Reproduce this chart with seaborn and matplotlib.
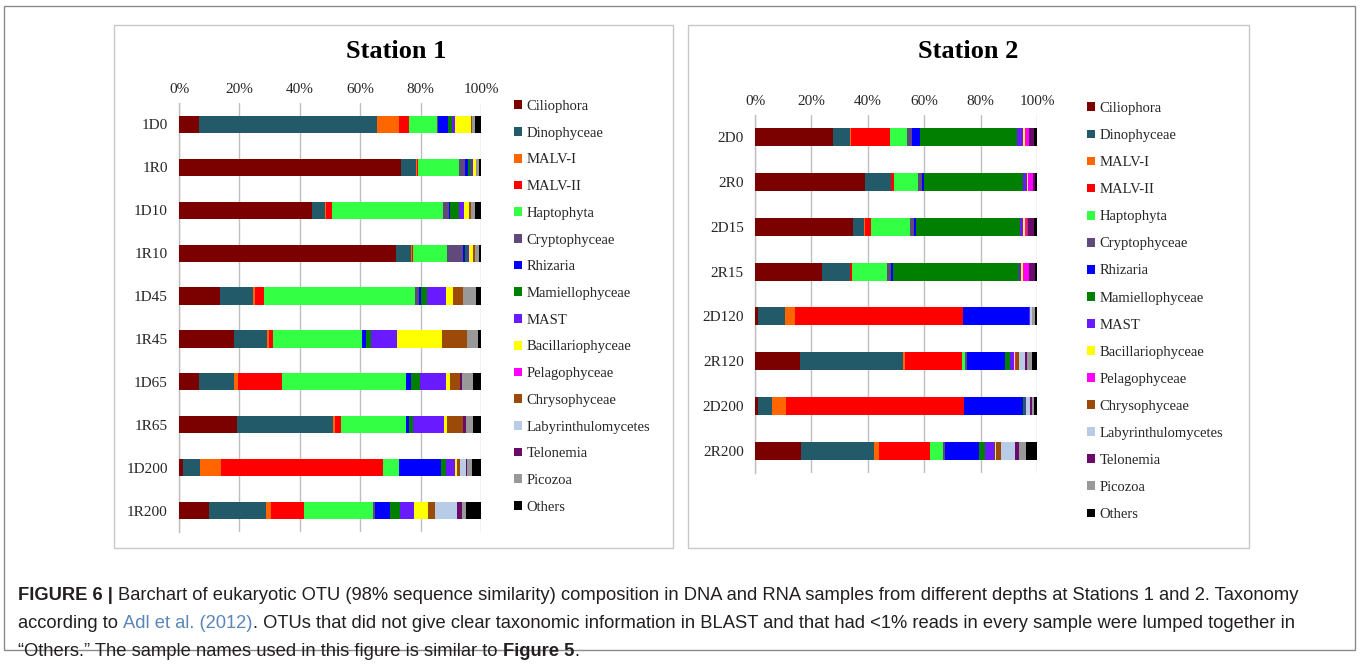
import numpy as np
import pandas as pd
import matplotlib
matplotlib.use("Agg")
import matplotlib.pyplot as plt
from matplotlib.patches import Patch, Rectangle
import seaborn as sns

# ---------------- data ----------------
taxa = ["Ciliophora", "Dinophyceae", "MALV-I", "MALV-II", "Haptophyta",
        "Cryptophyceae", "Rhizaria", "Mamiellophyceae", "MAST",
        "Bacillariophyceae", "Pelagophyceae", "Chrysophyceae",
        "Labyrinthulomycetes", "Telonemia", "Picozoa", "Others"]
colors = ["#7B0000", "#235A69", "#FF6600", "#FF0000", "#33FF44",
          "#604A7B", "#0000FF", "#007F00", "#6A1AFF",
          "#FFFF00", "#FF00FF", "#9C4A0A",
          "#B8CCE8", "#6A0A6A", "#999999", "#000000"]

s1_samples = ["1D0", "1R0", "1D10", "1R10", "1D45", "1R45", "1D65", "1R65", "1D200", "1R200"]
s1_1D0 = [6.7, 59.0, 7.2, 3.2, 9.2, 0.4, 3.4, 1.3, 0.9, 5.3, 0.0, 0.3, 0.0, 0.0, 1.2, 1.9]
s1_1R0 = [73.5, 5.0, 0.3, 0.4, 13.6, 2.0, 0.9, 0.9, 0.7, 0.9, 0.0, 0.2, 0.0, 0.0, 1.1, 0.5]
s1_1D10 = [44.2, 4.2, 0.3, 2.0, 36.6, 2.1, 0.4, 3.0, 1.5, 1.8, 0.0, 0.7, 0.0, 0.0, 1.1, 2.1]
s1_1R10 = [71.7, 5.1, 0.3, 0.5, 11.3, 5.2, 0.7, 0.7, 0.5, 1.5, 0.0, 0.6, 0.0, 0.0, 1.4, 0.5]
s1_1D45 = [13.7, 10.8, 0.6, 3.0, 50.1, 1.3, 0.7, 1.9, 6.4, 2.2, 0.0, 3.5, 0.0, 0.0, 4.2, 1.6]
s1_1R45 = [18.1, 11.1, 0.7, 1.2, 29.6, 0.0, 1.1, 1.8, 8.5, 14.9, 0.0, 8.2, 0.0, 0.2, 3.5, 1.1]
s1_1D65 = [6.6, 11.6, 1.2, 14.6, 41.3, 0.0, 1.5, 2.9, 8.8, 1.3, 0.0, 3.1, 0.0, 0.7, 3.6, 2.8]
s1_1R65 = [19.2, 31.9, 0.6, 2.0, 21.3, 0.0, 1.3, 1.2, 10.3, 0.9, 0.0, 5.5, 0.0, 0.9, 2.4, 2.5]
s1_1D200 = [1.4, 5.6, 6.8, 53.8, 5.4, 0.0, 13.9, 1.4, 3.0, 0.9, 0.0, 0.8, 2.1, 0.4, 1.5, 3.0]
s1_1R200 = [9.9, 18.9, 1.7, 10.8, 23.0, 0.6, 5.0, 3.3, 4.7, 4.5, 0.0, 2.3, 7.2, 1.8, 1.4, 4.9]

s2_samples = ["2D0", "2R0", "2D15", "2R15", "2D120", "2R120", "2D200", "2R200"]
s2_2D0 = [27.8, 6.0, 0.4, 13.5, 6.1, 1.7, 3.1, 34.3, 2.0, 0.7, 1.5, 0.2, 0.0, 1.5, 0.0, 1.2]
s2_2R0 = [39.1, 9.1, 0.2, 0.9, 8.5, 1.5, 0.7, 35.2, 1.2, 0.4, 1.7, 0.0, 0.0, 0.9, 0.0, 0.6]
s2_2D15 = [34.8, 3.7, 0.5, 2.1, 13.7, 1.7, 0.5, 36.8, 1.3, 0.7, 0.7, 0.3, 0.0, 2.1, 0.0, 1.1]
s2_2R15 = [23.9, 9.7, 0.2, 0.7, 12.3, 1.4, 0.7, 44.7, 0.9, 0.6, 2.2, 0.0, 0.0, 1.9, 0.0, 0.8]
s2_2D120 = [1.2, 9.5, 3.4, 59.5, 0.2, 0.0, 23.2, 0.0, 0.6, 0.0, 0.0, 0.0, 0.6, 0.2, 0.9, 0.7]
s2_2R120 = [16.1, 36.3, 0.7, 20.3, 1.1, 0.6, 13.4, 1.9, 1.4, 0.5, 0.4, 0.8, 2.4, 0.5, 1.8, 1.8]
s2_2D200 = [1.1, 4.8, 5.0, 63.1, 0.1, 0.0, 21.0, 0.5, 0.6, 0.0, 0.0, 0.0, 1.2, 0.9, 0.8, 0.9]
s2_2R200 = [16.3, 25.8, 1.7, 18.4, 4.3, 0.9, 12.2, 1.9, 3.7, 0.2, 0.0, 1.7, 5.1, 1.5, 2.4, 3.9]

xticks = [0, 20, 40, 60, 80, 100]
xtick_labels = ["0%", "20%", "40%", "60%", "80%", "100%"]

s1_rows = [s1_1D0, s1_1R0, s1_1D10, s1_1R10, s1_1D45, s1_1R45, s1_1D65, s1_1R65, s1_1D200, s1_1R200]
s2_rows = [s2_2D0, s2_2R0, s2_2D15, s2_2R15, s2_2D120, s2_2R120, s2_2D200, s2_2R200]

# ---------------- style ----------------
sns.set_theme(style="white")
plt.rcParams["font.family"] = ["Liberation Serif", "DejaVu Serif"]

W, H = 1360, 670
fig = plt.figure(figsize=(W / 100, H / 100), dpi=100)
fig.patch.set_facecolor("white")


def fx(px):
    return px / W


def fy(py):
    return 1 - py / H


GRID = "#BFBFBF"


def draw_station(ax, samples, rows):
    df = pd.DataFrame(rows, columns=taxa)
    cum = df[taxa].cumsum(axis=1)
    cum["sample"] = samples
    for i in reversed(range(len(taxa))):
        sns.barplot(data=cum, x=taxa[i], y="sample", orient="h", color=colors[i],
                    saturation=1, width=0.4, edgecolor="none", linewidth=0,
                    errorbar=None, ax=ax, zorder=3)
    n = len(samples)
    ax.set_ylim(n - 0.5, -0.5)
    ax.set_xlim(0, 100)
    ax.set_xlabel("")
    ax.set_ylabel("")
    ax.xaxis.tick_top()
    ax.set_xticks(xticks)
    ax.set_xticklabels(xtick_labels, fontsize=11)
    ax.tick_params(axis="x", length=0, pad=5)
    ax.tick_params(axis="y", which="major", length=0, pad=8, labelsize=11)
    ax.set_yticks(np.arange(n + 1) - 0.5, minor=True)
    ax.tick_params(axis="y", which="minor", length=4, width=1, color=GRID, direction="out")
    ax.xaxis.grid(True, color=GRID, linewidth=1)
    ax.yaxis.grid(False)
    ax.set_axisbelow(True)
    for s in ["top", "right", "bottom"]:
        ax.spines[s].set_visible(False)
    ax.spines["left"].set_color(GRID)
    ax.spines["left"].set_linewidth(1)
    ax.set_facecolor("none")


# Panel boxes
for (x0, x1) in [(114, 673), (688, 1249)]:
    fig.patches.append(Rectangle((fx(x0), fy(548)), fx(x1) - fx(x0), fy(25) - fy(548),
                                 transform=fig.transFigure, fill=False,
                                 edgecolor="#C8C8C8", linewidth=1, zorder=0))
# Outer frame
fig.patches.append(Rectangle((fx(4), fy(650)), fx(1355) - fx(4), fy(6) - fy(650),
                             transform=fig.transFigure, fill=False,
                             edgecolor="#8A8A8A", linewidth=1, zorder=0))

# Station 1 axes
ax1 = fig.add_axes([fx(179), fy(532), fx(481) - fx(179), fy(103) - fy(532)])
draw_station(ax1, s1_samples, s1_rows)
# Station 2 axes
ax2 = fig.add_axes([fx(755), fy(473), fx(1037) - fx(755), fy(115) - fy(473)])
draw_station(ax2, s2_samples, s2_rows)

fig.text(fx(396), fy(52), "Station 1", ha="center", va="center",
         fontsize=19, fontweight="bold", color="black")
fig.text(fx(968), fy(52), "Station 2", ha="center", va="center",
         fontsize=19, fontweight="bold", color="black")

handles = [Patch(facecolor=c, edgecolor="none") for c in colors]
leg_kw = dict(loc="upper left", frameon=False, fontsize=10.5, borderpad=0,
              handlelength=0.55, handleheight=0.55, handletextpad=0.3,
              borderaxespad=0)
fig.legend(handles, taxa, bbox_to_anchor=(fx(514), fy(100)), labelspacing=0.94, **leg_kw)
fig.legend(handles, taxa, bbox_to_anchor=(fx(1087), fy(102)), labelspacing=0.965, **leg_kw)

# Caption
CAP_FONT = ["Liberation Sans", "DejaVu Sans"]
CAP_SIZE = 13.2
renderer = fig.canvas.get_renderer()


def draw_runs(x_px, y_px, runs):
    x = fx(x_px)
    for text, weight, color in runs:
        t = fig.text(x, fy(y_px), text, ha="left", va="center", fontsize=CAP_SIZE,
                     fontweight=weight, color=color, family=CAP_FONT)
        bb = t.get_window_extent(renderer=renderer)
        x += bb.width / W


TXT = "#231F20"
LINK = "#5B86B8"
draw_runs(18, 596, [("FIGURE 6 | ", "bold", TXT),
                    ("Barchart of eukaryotic OTU (98% sequence similarity) composition in DNA and RNA "
                     "samples from different depths at Stations 1 and 2. Taxonomy", "normal", TXT)])
draw_runs(18, 624, [("according to ", "normal", TXT),
                    ("Adl et al. (2012)", "normal", LINK),
                    (". OTUs that did not give clear taxonomic information in BLAST and that had <1% "
                     "reads in every sample were lumped together in", "normal", TXT)])
draw_runs(18, 651, [("\u201cOthers.\u201d The sample names used in this figure is similar to ", "normal", TXT),
                    ("Figure 5", "bold", TXT),
                    (".", "normal", TXT)])

fig.savefig("out.png", dpi=100, facecolor="white")
